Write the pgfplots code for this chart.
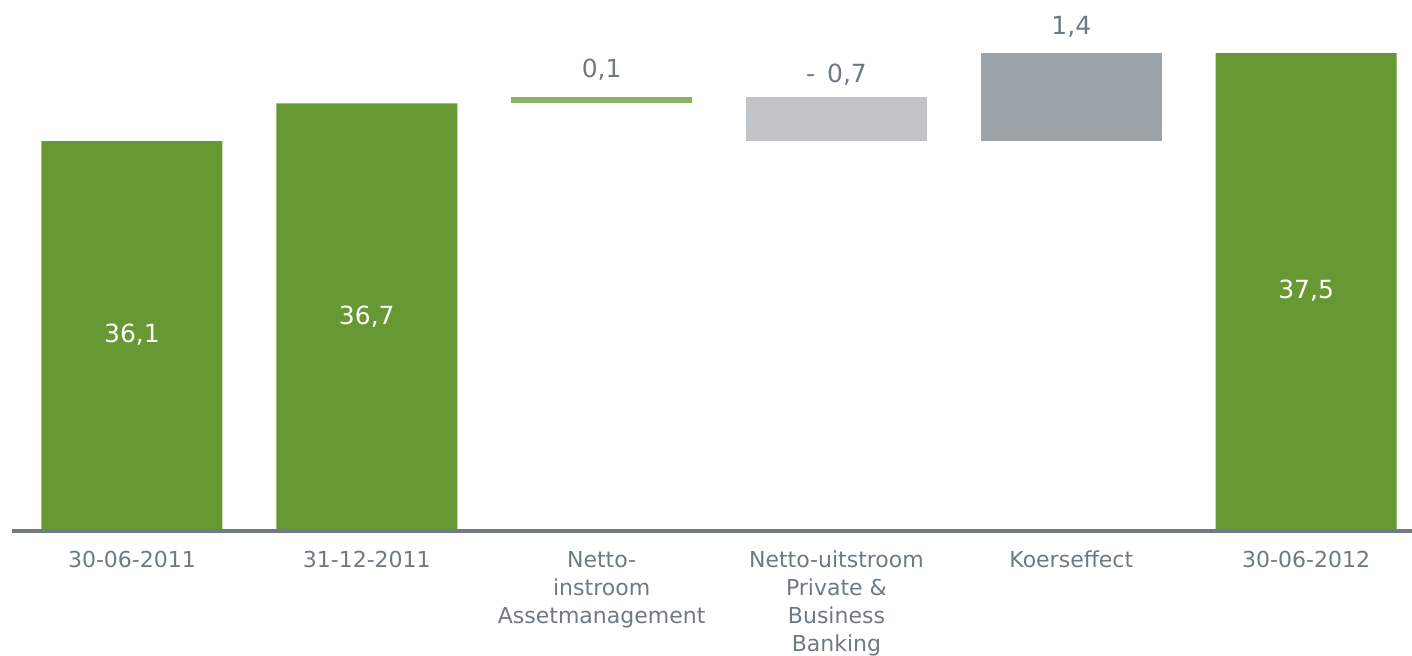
\documentclass[border=0pt]{standalone}
\usepackage{fontspec}
\setmainfont{DejaVu Sans}
\usepackage{pgfplots}
\pgfplotsset{compat=1.18}
\definecolor{barGreen}{HTML}{669933}
\definecolor{lightGreen}{HTML}{8BB162}
\definecolor{lightGray}{HTML}{C0C4C7}
\definecolor{darkGray}{HTML}{9CA3A9}
\definecolor{txtGray}{HTML}{6E7A82}
\definecolor{axGray}{HTML}{6F7B84}
\pgfplotsset{geom/.style={
  scale only axis,
  width=700pt, height=264.5pt,
  xmin=-0.511, xmax=5.451,
  ymin=29.93, ymax=38.346,
}}
\begin{document}
\begin{tikzpicture}
\begin{axis}[
  geom,
  ybar stacked,
  bar width=90.5pt,
  axis y line=none,
  axis x line*=bottom,
  x axis line style={draw=axGray, line width=1.8pt, -, yshift=-0.9pt},
  xtick={0,1,2,3,4,5},
  major tick length=0pt,
  xticklabels={30-06-2011,31-12-2011,{Netto-\\instroom\\Assetmanagement},{Netto-uitstroom\\Private \&\\Business\\Banking},Koerseffect,30-06-2012},
  xticklabel style={align=center, text=txtGray, font=\fontsize{11}{14}\selectfont, anchor=north, yshift=-7.5pt},
]
% invisible base
\addplot[draw=none, fill=none] coordinates {(0,0) (1,0) (2,36.7) (3,36.1) (4,36.1) (5,0)};
% green totals
\addplot[draw=none, fill=barGreen] coordinates {(0,36.1) (1,36.7) (2,0) (3,0) (4,0) (5,37.5)};
% inflow asset management
\addplot[draw=none, fill=lightGreen] coordinates {(0,0) (1,0) (2,0.1) (3,0) (4,0) (5,0)};
% outflow private & business banking
\addplot[draw=none, fill=lightGray] coordinates {(0,0) (1,0) (2,0) (3,0.7) (4,0) (5,0)};
% koerseffect
\addplot[draw=none, fill=darkGray] coordinates {(0,0) (1,0) (2,0) (3,0) (4,1.4) (5,0)};
\end{axis}
\begin{axis}[geom, axis lines=none, clip=false]
% labels inside bars
\addplot[draw=none, mark=none, only marks,
  nodes near coords, point meta=explicit symbolic,
  every node near coord/.append style={anchor=center, text=white, font=\fontsize{12.5}{15}\selectfont}]
  coordinates {(0,33.015)[36,1] (1,33.315)[36,7] (5,33.715)[37,5]};
% labels above delta bars
\addplot[draw=none, mark=none, only marks,
  nodes near coords, point meta=explicit symbolic,
  every node near coord/.append style={anchor=base, text=txtGray, font=\fontsize{12.5}{15}\selectfont}]
  coordinates {(2,37.12)[0,1] (3,37.04)[-\ \,0,7] (4,37.79)[1,4]};
\end{axis}
\pgfresetboundingbox
\path (current axis.south west) ++(-6pt,-63pt) rectangle ++(706pt,327.5pt);
\end{tikzpicture}
\end{document}
